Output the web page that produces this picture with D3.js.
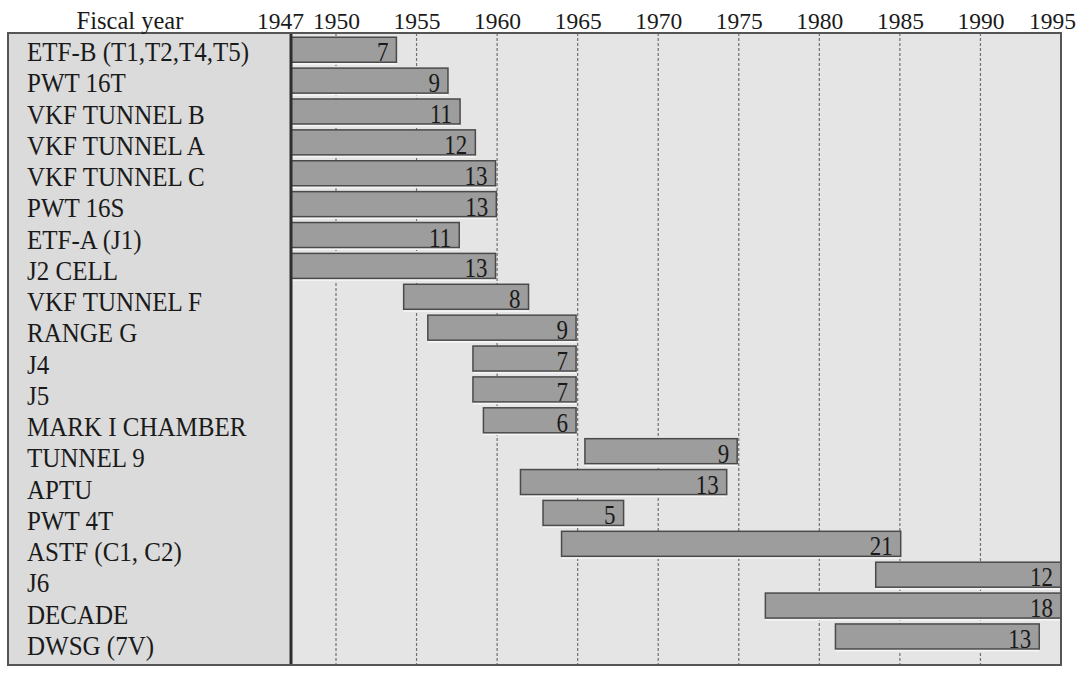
<!DOCTYPE html>
<html>
<head>
<meta charset="utf-8">
<script src="https://cdn.jsdelivr.net/npm/d3@7"></script>
<style>
  html, body { margin: 0; padding: 0; background: #ffffff; }
  svg { display: block; }
  text { font-family: "Liberation Serif", "Times New Roman", serif; fill: #1a1a1a; }
</style>
</head>
<body>
<svg id="chart" width="1080" height="675"></svg>
<script>
// ---- data ----
const facilities = [
  "ETF-B (T1,T2,T4,T5)", "PWT 16T", "VKF TUNNEL B", "VKF TUNNEL A", "VKF TUNNEL C",
  "PWT 16S", "ETF-A (J1)", "J2 CELL", "VKF TUNNEL F", "RANGE G", "J4", "J5",
  "MARK I CHAMBER", "TUNNEL 9", "APTU", "PWT 4T", "ASTF (C1, C2)", "J6", "DECADE", "DWSG (7V)"
];
const startYears = [1947, 1947, 1947, 1947, 1947, 1947, 1947, 1947, 1954.2, 1955.7,
  1958.5, 1958.5, 1959.15, 1965.45, 1961.45, 1962.85, 1964.0, 1983.5, 1976.65, 1981.0];
const endYears = [1953.75, 1956.95, 1957.7, 1958.65, 1959.9, 1959.95, 1957.65, 1959.9, 1961.95, 1964.9,
  1964.9, 1964.9, 1964.9, 1974.9, 1974.25, 1967.85, 1985.05, 1995, 1995, 1993.65];
const durations = [7, 9, 11, 12, 13, 13, 11, 13, 8, 9, 7, 7, 6, 9, 13, 5, 21, 12, 18, 13];
const tickYears = [1947, 1950, 1955, 1960, 1965, 1970, 1975, 1980, 1985, 1990, 1995];
const axisTitle = "Fiscal year";

const rows = facilities.map((name, i) => ({
  name, start: startYears[i], end: endYears[i], dur: durations[i]
}));

// ---- layout ----
const svg = d3.select("#chart");
const frame = { left: 8, right: 1061, top: 33, bottom: 665 };
const labelColRight = 291;

const x = d3.scaleLinear().domain([1947, 1950, 1995]).range([291, 336, 1061]);
const y = d3.scaleBand().domain(facilities).range([34.3, 651.9]).paddingInner(0.19).paddingOuter(0.095);
const yLabel = d3.scalePoint().domain(facilities).range([53, 647]);

// backgrounds
svg.append("rect")
  .attr("x", frame.left).attr("y", frame.top)
  .attr("width", labelColRight - frame.left).attr("height", frame.bottom - frame.top)
  .attr("fill", "#dbdbdb");
svg.append("rect")
  .attr("x", labelColRight).attr("y", frame.top)
  .attr("width", frame.right - labelColRight).attr("height", frame.bottom - frame.top)
  .attr("fill", "#e5e5e5");

// gridlines
svg.append("g").selectAll("line")
  .data(tickYears.filter(d => d > 1947 && d < 1995))
  .join("line")
  .attr("x1", d => x(d)).attr("x2", d => x(d))
  .attr("y1", frame.top).attr("y2", frame.bottom)
  .attr("stroke", "#707070").attr("stroke-width", 1.2)
  .attr("stroke-dasharray", "3,2");

// bars
const bars = svg.append("g");
bars.selectAll("rect.halo")
  .data(rows).join("rect").attr("class", "halo")
  .attr("x", d => x(d.start)).attr("y", d => y(d.name) + y.bandwidth())
  .attr("width", d => x(d.end) - x(d.start)).attr("height", 2.5)
  .attr("fill", "#f6f6f6");
bars.selectAll("rect.bar")
  .data(rows).join("rect").attr("class", "bar")
  .attr("x", d => x(d.start)).attr("y", d => y(d.name))
  .attr("width", d => x(d.end) - x(d.start)).attr("height", y.bandwidth())
  .attr("fill", "#9d9d9d").attr("stroke", "#4a4a4a").attr("stroke-width", 1.5);

// value labels (duration) inside bar end
bars.selectAll("text.val")
  .data(rows).join("text").attr("class", "val")
  .attr("transform", d => `translate(${x(d.end) - 8},${y(d.name) + y.bandwidth() - 1}) scale(1,1.2)`)
  .attr("text-anchor", "end")
  .attr("font-size", 23)
  .text(d => d.dur);

// 1947 baseline (thick)
svg.append("line")
  .attr("x1", x(1947)).attr("x2", x(1947))
  .attr("y1", frame.top).attr("y2", frame.bottom)
  .attr("stroke", "#2e2e2e").attr("stroke-width", 3);

// outer frame
svg.append("rect")
  .attr("x", frame.left).attr("y", frame.top)
  .attr("width", frame.right - frame.left).attr("height", frame.bottom - frame.top)
  .attr("fill", "none").attr("stroke", "#555555").attr("stroke-width", 2);

// row labels
svg.append("g").selectAll("text")
  .data(facilities).join("text")
  .attr("transform", d => `translate(27,${yLabel(d) + 8}) scale(1,1.05)`)
  .attr("font-size", 25)
  .text(d => d);

// top axis with year labels
const axis = d3.axisTop(x).tickValues(tickYears).tickFormat(d3.format("d")).tickSize(0).tickPadding(0);
const gAxis = svg.append("g").attr("transform", "translate(0,29)").call(axis);
gAxis.select(".domain").remove();
gAxis.selectAll("text")
  .attr("font-size", 23.5)
  .attr("font-family", "Liberation Serif, Times New Roman, serif")
  .attr("fill", "#1a1a1a")
  .attr("dy", 0)
  .attr("dx", d => d === 1947 ? -11 : (d === 1995 ? -9 : 0));

// axis title
svg.append("text")
  .attr("x", 130).attr("y", 29)
  .attr("text-anchor", "middle")
  .attr("font-size", 24.5)
  .text(axisTitle);
</script>
</body>
</html>
